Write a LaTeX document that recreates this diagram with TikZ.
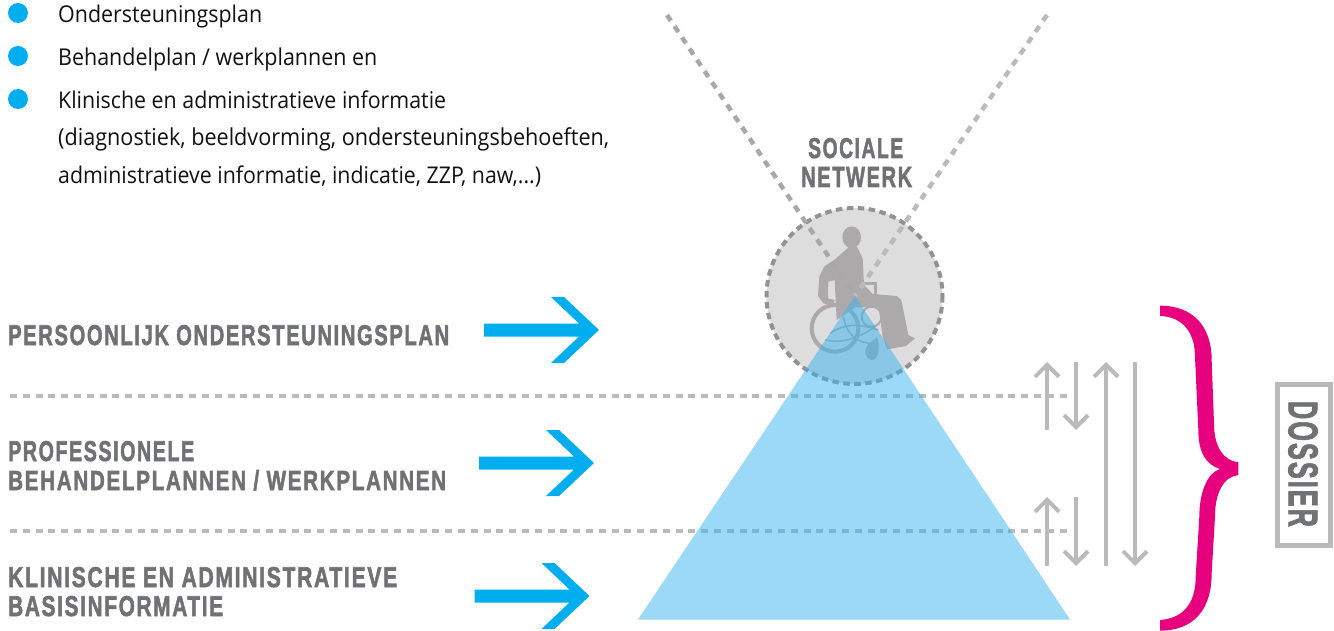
\documentclass[tikz,border=0pt]{standalone}
\usepackage{fontspec}
\usepackage{graphicx}
\usetikzlibrary{arrows.meta}
\setmainfont{Open Sans}
\newfontfamily\headf[LetterSpace=8,FakeBold=2.2]{Liberation Sans Bold}
\definecolor{skyb}{HTML}{00AEEF}
\definecolor{headgray}{HTML}{707174}
\definecolor{linegray}{HTML}{BABABA}
\definecolor{darkdash}{HTML}{929294}
\definecolor{figgray}{HTML}{ABA9A9}
\definecolor{circgray}{HTML}{DEDDDD}
\definecolor{trib}{HTML}{37B3EF}
\definecolor{brace}{HTML}{E6007E}
\definecolor{bodyk}{HTML}{111111}
\newcommand{\fitbody}[2]{\scalebox{1}[1.08]{\resizebox{#1pt}{!}{\fontsize{17pt}{17pt}\selectfont #2}}}
\newcommand{\fithead}[3]{\resizebox{#1pt}{#2pt}{\headf #3}}
\tikzset{
  bullet/.style={circle,fill=skyb,minimum size=20pt,inner sep=0pt},
  bodytext/.style={anchor=base west,inner sep=0pt,text=bodyk},
  headtext/.style={anchor=base west,inner sep=0pt,text=headgray},
  levelline/.style={linegray,line width=4pt,dash pattern=on 7pt off 5.8pt},
  vline/.style={line width=4.5pt,dash pattern=on 7pt off 6.5pt},
  gapgray/.style={linegray,line width=4pt,-{Straight Barb[length=12pt,width=24pt]}},
  bluearrow/.style={fill=skyb,draw=none},
}
\newcommand{\blarrow}[2]{\fill[bluearrow,shift={(#1,#2)}] (0,-6.5) -- (95,-6.5) -- (67,-33) -- (80,-33) -- (115,0) -- (80,33) -- (67,33) -- (95,6.5) -- (0,6.5) -- cycle;}
\begin{document}
\begin{tikzpicture}[x=1pt,y=-1pt]
\useasboundingbox (0,0) rectangle (1334,631);
% list
\node[bullet] (b1) at (18,13) {};
\node[bullet] (b2) at (18,56) {};
\node[bullet] (b3) at (18,99) {};
\node[bodytext] (t1) at (58,23) {\fitbody{204}{Ondersteuningsplan}};
\node[bodytext] (t2) at (58,66) {\fitbody{319}{Behandelplan / werkplannen en}};
\node[bodytext] (t3) at (58,109) {\fitbody{388}{Klinische en administratieve informatie}};
\node[bodytext] (t4) at (58,146) {\fitbody{551}{(diagnostiek, beeldvorming, ondersteuningsbehoeften,}};
\node[bodytext] (t5) at (58,184) {\fitbody{483}{administratieve informatie, indicatie, ZZP, naw,...)}};
% level lines
\coordinate (l1a) at (10,396); \coordinate (l1b) at (1071,396);
\coordinate (l2a) at (10,531); \coordinate (l2b) at (1071,531);
\draw[levelline] (l1a) -- (l1b);
\draw[levelline] (l2a) -- (l2b);
% headings
\node[headtext] (h1) at (8,345) {\fithead{441}{20}{PERSOONLIJK ONDERSTEUNINGSPLAN}};
\node[headtext] (h2) at (8,461) {\fithead{186}{20}{PROFESSIONELE}};
\node[headtext] (h3) at (8,490) {\fithead{438}{20}{BEHANDELPLANNEN / WERKPLANNEN}};
\node[headtext] (h4) at (8,587) {\fithead{389}{20}{KLINISCHE EN ADMINISTRATIEVE}};
\node[headtext] (h5) at (8,616) {\fithead{215}{20}{BASISINFORMATIE}};
\node[headtext] (h6) at (808,158) {\fithead{95}{20}{SOCIALE}};
\node[headtext] (h7) at (801,187) {\fithead{111}{20}{NETWERK}};
% blue arrows
\blarrow{484}{330}
\blarrow{479}{463}
\blarrow{474.5}{596}
% circle
\coordinate (cc) at (854.5,296);
\fill[circgray] (cc) circle (88);
% figure
\begin{scope}[shift={(800,220)},scale=1/3]
  \fill[figgray] (155,52) ellipse (28 and 33);
  \fill[figgray] (150,78) -- (172,82) -- (188,115) -- (192,195) -- (218,222) -- (290,228) -- (304,240)
     -- (325,345) -- (345,355) -- (318,378) -- (262,388) -- (248,350) -- (236,262) -- (165,262) -- (110,300)
     -- (104,180) -- (85,185) -- (84,235) -- (104,240) -- (100,256) -- (70,250) -- (54,228) -- (58,170) -- (72,140) -- (105,118) -- cycle;
  \draw[figgray,line width=4pt] (105,325) circle (70);
  \draw[figgray,line width=3pt] (190,192) -- (225,192) -- (225,240);
  \draw[figgray,line width=2pt] (215,290) circle (30);
  \draw[figgray,line width=1.5pt] (90,340) .. controls (150,300) and (200,320) .. (235,330);
  \draw[figgray,line width=1.5pt] (130,290) .. controls (140,350) and (180,370) .. (215,370);
  \draw[figgray,line width=1.5pt] (75,360) .. controls (120,370) and (170,360) .. (225,320);
  \fill[figgray] (196,395) .. controls (196,375) and (212,365) .. (232,352) .. controls (240,380) and (238,420) .. (214,420) .. controls (203,420) and (196,408) .. (196,395) -- cycle;
\end{scope}
\draw[darkdash,line width=4pt,dash pattern=on 6.5pt off 4.5pt] (cc) circle (88);
% V lines
\coordinate (apex) at (855,296);
\coordinate (vl) at (667,15);
\coordinate (vr) at (1047,15);
\draw[vline,color=darkdash!80] (vl) -- (apex);
\draw[vline,color=linegray] (vr) -- (apex);
% triangle
\coordinate (ta) at (638,619.5);
\coordinate (tb) at (1070,619.5);
\fill[trib,fill opacity=.5] (apex) -- (tb) -- (ta) -- cycle;
% small arrows
\coordinate (a1s) at (1047,430); \coordinate (a1e) at (1047,362);
\coordinate (a2s) at (1076,362); \coordinate (a2e) at (1076,430);
\coordinate (a3s) at (1106,566); \coordinate (a3e) at (1106,362);
\coordinate (a4s) at (1135,362); \coordinate (a4e) at (1135,566);
\coordinate (a5s) at (1047,566); \coordinate (a5e) at (1047,497);
\coordinate (a6s) at (1076,497); \coordinate (a6e) at (1076,566);
\draw[gapgray] (a1s) -- (a1e);
\draw[gapgray] (a2s) -- (a2e);
\draw[gapgray] (a3s) -- (a3e);
\draw[gapgray] (a4s) -- (a4e);
\draw[gapgray] (a5s) -- (a5e);
\draw[gapgray] (a6s) -- (a6e);
% brace
\begin{scope}[shift={(1020,290)},scale=1/3]
\fill[brace] (420,47) .. controls (520,47) and (575,110) .. (575,210)
  -- (582,400) .. controls (582,470) and (610,512) .. (655,517)
  -- (655,555) .. controls (610,560) and (585,610) .. (585,680)
  -- (575,850) .. controls (575,960) and (520,1022) .. (420,1022)
  -- (420,990) .. controls (490,985) and (527,940) .. (527,860)
  -- (538,680) .. controls (538,610) and (560,550) .. (600,537)
  .. controls (560,525) and (535,490) .. (535,420)
  -- (525,200) .. controls (525,130) and (490,80) .. (420,78) -- cycle;
\end{scope}
% dossier
\node[draw=linegray,line width=4.5pt,fill=white,minimum width=53pt,minimum height=161pt,inner sep=0pt] (dbox) at (1304,465) {};
\node[inner sep=0pt,text=headgray,rotate=-90,anchor=center] (dtxt) at (1303,464) {\fithead{126}{29}{DOSSIER}};
\end{tikzpicture}
\end{document}
